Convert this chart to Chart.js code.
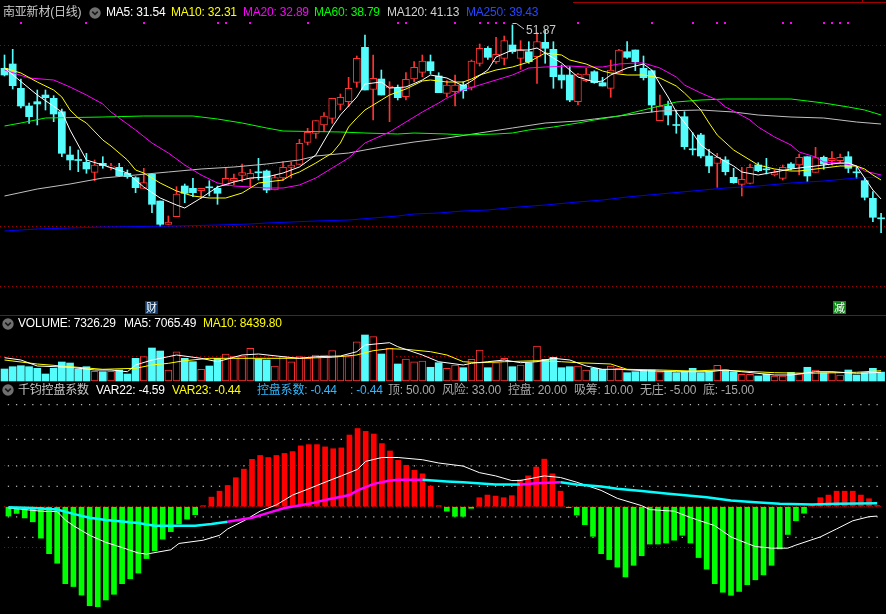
<!DOCTYPE html>
<html lang="zh">
<head>
<meta charset="UTF-8">
<title>南亚新材(日线)</title>
<script src="https://cdn.jsdelivr.net/npm/chart.js"></script>
<style>
  body { margin: 0; background: #000; }
  #wrap { position: relative; width: 886px; height: 614px; overflow: hidden; background: #000; }
  canvas { position: absolute; left: 0; }
  .hd { position: absolute; font: 12px "Liberation Sans", "Noto Sans CJK SC", sans-serif; line-height: 14px; white-space: nowrap; letter-spacing: -0.2px; }
  .ico { position: absolute; width: 12px; height: 12px; }
  .rule { position: absolute; background: #a00000; }
</style>
</head>
<body>
<div id="wrap">
  <canvas id="priceChart" width="886" height="315" style="top:0"></canvas>
  <canvas id="volChart" width="886" height="68" style="top:315px"></canvas>
  <canvas id="ctrlChart" width="886" height="231" style="top:383px"></canvas>

  <div class="rule" style="left:573px;top:2px;width:313px;height:1px"></div>
  <div class="rule" style="left:862px;top:0;width:1px;height:3px"></div>
  <div class="rule" style="left:0;top:315px;width:886px;height:1px"></div>

  <!-- price header -->
  <span class="hd" style="left:3px;top:5px;color:#c8c8c8">南亚新材(日线)</span>
  <svg class="ico" style="left:89px;top:7px" viewBox="0 0 12 12"><circle cx="6" cy="6" r="5.7" fill="#707070"/><path d="M3.2 4.6 L6 7.4 L8.8 4.6" stroke="#1a1a1a" stroke-width="1.6" fill="none"/></svg>
  <span class="hd" style="left:106px;top:5px;color:#ffffff">MA5: 31.54</span>
  <span class="hd" style="left:171px;top:5px;color:#ffff00">MA10: 32.31</span>
  <span class="hd" style="left:243px;top:5px;color:#ff00ff">MA20: 32.89</span>
  <span class="hd" style="left:314px;top:5px;color:#00ff00">MA60: 38.79</span>
  <span class="hd" style="left:387px;top:5px;color:#d0d0d0">MA120: 41.13</span>
  <span class="hd" style="left:466px;top:5px;color:#2846ff">MA250: 39.43</span>

  <!-- volume header -->
  <svg class="ico" style="left:1.5px;top:318px" viewBox="0 0 12 12"><circle cx="6" cy="6" r="5.7" fill="#707070"/><path d="M3.2 4.6 L6 7.4 L8.8 4.6" stroke="#1a1a1a" stroke-width="1.6" fill="none"/></svg>
  <span class="hd" style="left:18px;top:316px;color:#ffffff">VOLUME: 7326.29</span>
  <span class="hd" style="left:124px;top:316px;color:#ffffff">MA5: 7065.49</span>
  <span class="hd" style="left:203px;top:316px;color:#ffff00">MA10: 8439.80</span>

  <!-- indicator header -->
  <svg class="ico" style="left:1.5px;top:384px" viewBox="0 0 12 12"><circle cx="6" cy="6" r="5.7" fill="#707070"/><path d="M3.2 4.6 L6 7.4 L8.8 4.6" stroke="#1a1a1a" stroke-width="1.6" fill="none"/></svg>
  <span class="hd" style="left:18px;top:383px;color:#c8c8c8">千钧控盘系数</span>
  <span class="hd" style="left:96px;top:383px;color:#ffffff">VAR22: -4.59</span>
  <span class="hd" style="left:172px;top:383px;color:#ffff00">VAR23: -0.44</span>
  <span class="hd" style="left:257px;top:383px;color:#2fb8ff">控盘系数: -0.44</span>
  <span class="hd" style="left:350px;top:383px;color:#2fb8ff">: -0.44</span>
  <span class="hd" style="left:388px;top:383px;color:#a8a8a8">顶: 50.00</span>
  <span class="hd" style="left:442px;top:383px;color:#a8a8a8">风险: 33.00</span>
  <span class="hd" style="left:508px;top:383px;color:#a8a8a8">控盘: 20.00</span>
  <span class="hd" style="left:574px;top:383px;color:#a8a8a8">吸筹: 10.00</span>
  <span class="hd" style="left:640px;top:383px;color:#a8a8a8">无庄: -5.00</span>
  <span class="hd" style="left:703px;top:383px;color:#a8a8a8">底: -15.00</span>
</div>

<script>
// ---- daily candles (108 sessions) ----
const opens = [47.54, 47.97, 45.54, 43.77, 44.20, 44.87, 44.54, 43.20, 38.87, 38.42,
  38.14, 37.14, 38.04, 37.64, 37.64, 37.04, 36.60, 35.54, 36.94, 34.27,
  31.94, 32.70, 35.77, 35.54, 35.30, 35.69, 35.54, 35.80, 36.27, 36.84,
  36.47, 37.19, 37.27, 35.37, 36.57, 37.64, 37.94, 40.14, 41.04, 41.87,
  42.54, 43.94, 44.20, 46.14, 49.64, 45.44, 46.47, 45.57, 45.54, 44.70,
  46.47, 47.14, 48.20, 46.77, 45.04, 45.20, 45.87, 45.64, 48.04, 49.54,
  48.20, 48.54, 49.87, 48.54, 49.20, 48.70, 50.14, 49.44, 46.87, 46.87,
  44.20, 46.30, 47.20, 46.10, 45.54, 47.14, 49.20, 49.37, 47.54, 47.30,
  42.30, 43.77, 41.92, 42.70, 39.49, 40.87, 38.77, 38.04, 38.37, 36.64,
  35.94, 36.04, 37.87, 37.49, 36.87, 36.54, 37.97, 37.87, 38.70, 37.14,
  38.64, 38.30, 38.30, 38.70, 37.19, 36.30, 34.54, 32.59];
const highs = [48.87, 49.44, 46.47, 44.07, 45.37, 45.37, 44.80, 43.47, 39.70, 39.37,
  39.04, 38.37, 38.70, 38.04, 38.04, 37.37, 36.70, 37.54, 36.94, 34.27,
  32.77, 35.70, 35.97, 36.54, 35.54, 36.30, 35.77, 37.54, 36.97, 37.97,
  37.44, 38.54, 37.37, 36.87, 38.20, 38.14, 40.44, 41.54, 42.30, 43.10,
  44.54, 44.97, 46.64, 48.77, 50.87, 48.87, 47.37, 46.20, 45.87, 47.10,
  48.20, 48.87, 48.87, 47.10, 46.30, 46.87, 46.20, 48.37, 49.97, 49.70,
  50.64, 50.77, 51.87, 50.30, 50.20, 51.10, 51.37, 50.20, 47.87, 47.70,
  47.04, 47.54, 47.30, 46.64, 48.37, 49.44, 50.20, 49.37, 48.77, 47.37,
  44.87, 44.27, 43.37, 43.20, 41.10, 41.04, 39.44, 39.04, 38.70, 37.54,
  37.64, 37.97, 38.10, 38.54, 37.37, 37.87, 38.10, 38.97, 38.70, 39.64,
  38.77, 39.20, 38.97, 39.20, 37.64, 36.54, 35.20, 33.04];
const lows = [46.77, 45.47, 43.57, 42.04, 41.87, 43.37, 42.20, 38.70, 37.37, 37.20,
  37.04, 36.30, 37.54, 37.37, 36.70, 36.54, 35.10, 35.54, 33.10, 31.70,
  31.94, 32.70, 34.10, 34.70, 34.54, 34.77, 33.94, 35.80, 35.87, 36.20,
  35.70, 36.37, 35.10, 35.37, 36.30, 36.57, 37.94, 39.87, 40.54, 41.20,
  42.04, 43.37, 43.70, 45.64, 45.37, 42.37, 44.87, 42.20, 44.37, 44.37,
  46.20, 46.70, 46.97, 45.10, 44.70, 43.77, 44.54, 45.37, 47.77, 48.44,
  48.04, 47.87, 49.04, 47.44, 48.04, 46.04, 48.04, 45.54, 45.54, 44.20,
  43.87, 46.20, 46.04, 45.77, 44.64, 47.14, 48.54, 47.30, 46.37, 43.17,
  42.30, 41.87, 41.04, 39.44, 38.87, 38.57, 37.10, 35.64, 36.87, 36.04,
  34.77, 35.97, 37.20, 36.97, 36.77, 36.37, 37.37, 36.87, 36.20, 37.14,
  37.44, 37.87, 38.04, 37.10, 36.54, 34.37, 32.20, 31.10];
const closes = [46.87, 45.80, 43.77, 42.70, 43.97, 44.60, 42.97, 39.04, 38.37, 38.32,
  37.47, 37.87, 37.80, 37.77, 36.80, 36.70, 35.60, 36.10, 33.94, 31.94,
  32.17, 34.97, 35.04, 35.10, 35.54, 35.59, 35.04, 36.54, 36.54, 37.10,
  37.04, 37.09, 35.37, 36.60, 37.64, 37.87, 40.04, 41.14, 42.30, 42.77,
  44.54, 44.64, 45.54, 48.54, 45.37, 46.54, 44.87, 45.77, 44.60, 46.44,
  47.64, 48.27, 47.30, 45.10, 45.87, 45.87, 45.30, 48.27, 49.54, 48.64,
  48.94, 50.30, 49.20, 49.37, 48.20, 50.20, 49.54, 46.70, 46.37, 44.37,
  46.97, 46.97, 46.10, 45.77, 47.37, 49.37, 48.64, 48.20, 46.60, 43.87,
  43.77, 42.87, 41.82, 39.70, 39.39, 38.77, 37.77, 38.64, 37.20, 36.10,
  36.44, 37.64, 37.30, 37.39, 37.10, 37.64, 37.54, 38.64, 36.77, 38.60,
  37.97, 38.54, 38.64, 37.54, 37.09, 34.64, 32.64, 32.49];

// moving averages: [session index, price]
const ma5 = [[0,47.57],[4,44.87],[7,43.17],[8,41.37],[10,38.37],[12,37.87],[15,37.07],[17,35.67],[19,34.57],[21,33.87],[22,33.57],[24,34.57],[26,35.67],[28,36.17],[30,36.57],[32,36.67],[34,37.07],[36,37.67],[38,38.87],[40,41.67],[41,42.87],[43,44.67],[44,45.97],[46,46.17],[47,45.57],[49,45.67],[51,46.37],[52,46.87],[54,46.57],[56,45.77],[57,46.27],[59,47.37],[60,48.67],[62,49.37],[64,49.37],[65,49.57],[66,49.07],[68,48.07],[69,47.37],[70,46.67],[72,46.17],[73,46.27],[74,46.87],[76,47.57],[78,47.97],[79,47.37],[80,45.97],[81,44.67],[82,43.17],[84,41.07],[85,39.87],[87,38.67],[89,37.77],[90,37.17],[92,36.87],[94,37.17],[96,37.47],[98,37.67],[100,37.87],[102,38.07],[103,38.07],[104,37.77],[105,36.57],[106,35.37],[107,34.47]];
const ma10 = [[0,47.57],[2,47.07],[4,46.17],[6,45.37],[7,44.67],[8,43.37],[9,42.57],[10,42.07],[12,40.37],[13,39.77],[15,38.37],[16,37.37],[17,37.07],[19,36.07],[21,35.27],[23,34.77],[25,34.57],[27,34.57],[29,35.07],[31,36.07],[34,36.37],[35,36.87],[36,37.17],[38,38.07],[40,39.07],[41,40.07],[42,41.67],[43,42.57],[44,43.37],[46,44.37],[47,44.87],[49,45.47],[51,46.27],[52,46.37],[54,46.17],[56,46.17],[57,46.47],[58,46.87],[60,47.37],[62,47.67],[64,48.17],[66,49.07],[68,48.87],[69,48.37],[71,47.97],[73,47.27],[74,47.07],[76,46.87],[78,46.87],[80,46.57],[82,45.77],[83,45.07],[84,44.27],[85,43.37],[86,42.07],[87,40.87],[89,39.37],[91,38.37],[92,37.87],[94,37.47],[96,37.27],[97,37.27],[100,37.57],[102,37.77],[104,37.77],[105,37.47],[106,36.87],[107,36.37]];
const ma20 = [[0,47.37],[3,46.57],[6,46.37],[8,45.67],[10,44.87],[12,43.97],[13,43.17],[16,41.37],[18,40.07],[20,39.07],[22,37.87],[24,36.87],[26,36.07],[28,35.77],[30,35.67],[32,35.57],[34,35.57],[36,35.87],[38,36.57],[40,37.57],[42,38.57],[44,40.07],[47,41.17],[49,42.17],[51,43.17],[53,44.07],[54,44.57],[56,45.37],[58,45.87],[60,46.37],[62,46.87],[64,47.57],[66,47.67],[69,47.77],[71,47.67],[73,47.67],[75,47.97],[77,48.07],[78,48.07],[80,47.57],[82,46.67],[83,45.87],[85,45.07],[87,44.37],[88,43.67],[89,43.27],[91,42.37],[92,41.67],[94,40.67],[96,39.87],[97,39.17],[99,38.67],[100,38.17],[102,38.07],[104,37.77],[105,37.27],[107,36.87]];
const ma60 = [[0,41.77],[2,42.07],[5,42.57],[12,42.67],[17,42.77],[23,42.77],[26,42.47],[29,42.07],[32,41.57],[34,41.27],[41,41.17],[44,41.07],[48,40.97],[50,41.07],[54,40.97],[56,40.87],[60,40.97],[62,41.07],[64,41.37],[67,41.67],[70,42.07],[72,42.37],[75,42.77],[78,43.37],[82,44.17],[85,44.37],[88,44.47],[92,44.47],[96,44.47],[98,44.27],[100,44.07],[103,43.67],[105,43.37],[107,42.87]];
const ma120 = [[0,34.77],[4,35.47],[8,35.97],[12,36.57],[16,36.87],[20,37.17],[24,37.47],[28,37.67],[32,37.97],[36,38.37],[38,38.77],[42,39.07],[46,39.67],[50,40.17],[54,40.57],[58,41.07],[62,41.57],[66,42.07],[70,42.27],[72,42.47],[76,42.87],[80,43.27],[85,43.37],[89,43.17],[92,42.87],[96,42.67],[100,42.57],[104,42.17],[107,41.97]];
const ma250 = [[0,31.27],[4,31.47],[8,31.57],[12,31.67],[21,31.77],[26,31.87],[30,31.97],[32,32.07],[35,32.17],[38,32.27],[42,32.37],[45,32.57],[48,32.77],[50,32.97],[53,33.07],[56,33.27],[59,33.37],[62,33.62],[66,33.87],[70,34.17],[73,34.37],[76,34.67],[80,34.97],[84,35.27],[88,35.57],[92,35.77],[96,36.07],[100,36.27],[104,36.57],[107,36.67]];

// ---- volume ----
const volumes = [9880, 11770, 12590, 11770, 10450, 5760, 10450, 15640, 14810, 9880,
  11770, 7980, 7650, 7980, 9050, 5760, 18680, 20000, 27160, 24690,
  9050, 24110, 18680, 15880, 9630, 12350, 18680, 22220, 20580, 20580,
  26910, 18110, 17280, 12350, 20000, 15880, 20000, 18680, 21400, 21400,
  24940, 20580, 20000, 32340, 37860, 36460, 22220, 26910, 13990, 18110,
  15880, 16460, 11280, 15060, 10450, 13170, 10950, 17860, 25510, 10950,
  15060, 18680, 11770, 13170, 15060, 28810, 17860, 19510, 10950, 11770,
  12350, 9050, 10450, 9630, 12350, 10450, 6830, 7650, 9050, 9050,
  7650, 8230, 6830, 7650, 10450, 6830, 7650, 12920, 9050, 7650,
  5510, 5510, 4120, 5760, 4120, 4120, 7160, 5760, 11280, 9050,
  6830, 7650, 4940, 9050, 4940, 6830, 10450, 7326.29];
const volMa5 = [[0,19180],[2,17280],[4,12350],[8,11280],[11,9050],[13,9050],[15,7650],[16,13170],[18,17280],[20,20000],[21,21400],[24,18680],[26,15880],[29,21400],[31,22220],[34,20000],[36,18680],[38,20000],[41,20580],[43,24110],[44,29630],[47,31520],[48,28230],[51,21400],[53,15880],[56,13170],[57,14570],[59,15880],[61,17280],[63,15060],[65,15880],[67,18680],[69,17280],[71,12350],[73,9630],[75,9630],[78,8480],[82,7650],[86,7650],[88,9050],[90,7650],[94,4940],[96,4940],[99,7650],[101,7650],[104,6340],[107,7065.49]];
const volMa10 = [[0,17280],[4,13990],[8,11770],[12,9630],[16,10450],[18,13170],[20,14570],[22,16710],[25,18680],[28,18680],[32,18680],[36,18680],[40,19510],[43,21400],[45,24940],[47,26580],[49,26090],[52,24110],[54,21400],[56,15880],[58,15060],[61,15880],[65,16710],[68,15880],[70,15060],[74,13990],[76,9630],[80,9050],[84,8230],[87,9050],[90,8230],[94,6830],[98,6340],[102,6830],[104,7200],[107,8439.8]];

// ---- 千钧控盘系数 ----
const ctrlBars = [-4.6, -3.3, -5.5, -7.4, -15.4, -23.0, -27.7, -37.7, -39.1, -43.3,
  -48.5, -49.0, -45.7, -42.9, -37.7, -35.3, -32.5, -25.4, -21.6, -15.9,
  -12.2, -8.5, -6.1, -3.9, 0.5, 4.7, 7.6, 10.4, 14.2, 18.4,
  23.2, 25.1, 24.1, 25.1, 26.1, 27.0, 29.8, 30.4, 30.4, 29.3,
  28.4, 28.8, 35.1, 38.3, 36.9, 35.6, 30.9, 27.3, 22.7, 20.3,
  17.8, 16.1, 10.1, 0.5, -2.2, -4.7, -4.7, -0.8, 4.4, 5.7,
  5.2, 4.4, 5.4, 13.2, 15.1, 19.4, 23.3, 16.1, 7.6, -0.5,
  -4.1, -8.8, -14.5, -23.0, -25.9, -29.6, -34.4, -28.7, -24.0, -18.3,
  -18.3, -17.8, -16.4, -14.0, -17.8, -24.9, -30.6, -37.7, -41.9, -43.4,
  -41.5, -38.2, -35.8, -33.4, -28.7, -20.7, -13.6, -6.9, -3.2, 0.5,
  4.4, 5.7, 7.6, 7.6, 7.6, 5.7, 3.9, 0.6];
const ctrlLine = [[0,-0.3],[3,-0.6],[6,-1.4],[8,-3.5],[10,-5.4],[12,-6.5],[14,-7.3],[16,-8.0],[18,-9.3],[20,-9.3],[23,-9.3],[25,-8.5],[27,-7.4],[30,-5.4],[32,-3.0],[34,-0.6],[37,1.4],[39,3.3],[42,5.7],[43,8.0],[45,11.2],[47,12.8],[48,13.2],[51,13.2],[54,12.4],[56,12.0],[60,10.9],[63,10.9],[65,11.5],[68,12.0],[70,10.9],[73,9.9],[75,8.8],[78,7.7],[81,6.5],[84,5.4],[86,4.6],[89,3.0],[92,2.2],[95,1.4],[99,1.1],[102,1.4],[107,1.7]];
const ctrlRiseSpans = [[27, 51], [63, 68]];
const var22 = [[0,-0.6],[4,-2.2],[6,-2.4],[7,-6.5],[8,-9.3],[10,-14.0],[12,-17.5],[14,-20.0],[16,-22.7],[17,-23.2],[20,-21.1],[21,-18.0],[24,-16.4],[26,-14.0],[27,-10.9],[29,-6.9],[31,-2.2],[33,0.9],[35,5.7],[37,8.8],[39,12.0],[41,15.1],[43,18.3],[44,22.2],[46,24.1],[48,24.1],[51,23.0],[53,21.4],[56,19.9],[58,16.7],[60,15.1],[62,12.8],[63,12.8],[65,14.3],[66,15.1],[68,14.3],[70,12.0],[73,8.0],[75,4.1],[78,0.5],[79,-1.4],[82,-2.2],[84,-5.3],[87,-9.3],[89,-14.8],[91,-18.0],[92,-19.5],[94,-20.3],[96,-20.3],[97,-18.8],[100,-14.8],[102,-10.9],[104,-6.9],[106,-4.9],[107,-4.59]];
const levels = [50, 33, 20, 10, -5, -15];

// grid rows, signal marks, events
const priceGrid = [49.77, 43.77, 37.77, 31.77, 25.77];
const volGrid = [20000];
const ctrlGrid = [40, 20, 0, -20];
const signalDots = [2, 10, 17, 26, 27, 30, 37, 48, 49, 55, 58, 59, 60, 61, 70, 79, 84, 87, 88, 95, 96, 100, 101, 102, 103];
const events = [{ i: 18, text: '财', bg: '#0d3b6e' }, { i: 102, text: '减', bg: '#0a8a14' }];

const RED = '#ff3232', CYAN = '#54fcfc';
const isUp = i => closes[i] >= opens[i];
const idx = opens.map((_, i) => i);
const pts = arr => arr.map(([x, y]) => ({ x, y }));

function baseOptions(yMin, yMax, grid) {
  return {
    responsive: false,
    animation: false,
    events: [],
    layout: { padding: 0 },
    plugins: { legend: { display: false }, tooltip: { enabled: false } },
    scales: {
      x: {
        type: 'linear', min: -0.55, max: 107.6, bounds: 'data', offset: false, display: false,
        ticks: { includeBounds: false, stepSize: 1 }
      },
      y: {
        min: yMin, max: yMax, bounds: 'data',
        afterBuildTicks: s => { s.ticks = grid.map(v => ({ value: v })); },
        ticks: { display: false },
        grid: { color: '#a00000', drawTicks: false, lineWidth: 1 },
        border: { display: false, dash: [1, 3] }
      }
    }
  };
}

const barSet = (data, extra) => Object.assign({
  type: 'bar', data, grouped: false, categoryPercentage: 1, barPercentage: 1,
  borderSkipped: false, minBarLength: 1
}, extra);
const lineSet = (data, color, extra) => Object.assign({
  type: 'line', data: pts(data), borderColor: color, borderWidth: 1, pointRadius: 0, tension: 0
}, extra);

// ---- price chart ----
const priceMarks = {
  id: 'priceMarks',
  afterDatasetsDraw(chart) {
    const { ctx, scales: { x, y } } = chart;
    ctx.save();
    ctx.fillStyle = '#ff00ff';
    signalDots.forEach(i => ctx.fillRect(Math.round(x.getPixelForValue(i)) - 1, 22, 2, 2));

    let hi = 0;
    highs.forEach((h, i) => { if (h > highs[hi]) hi = i; });
    const px = Math.round(x.getPixelForValue(hi)), py = y.getPixelForValue(highs[hi]);
    ctx.strokeStyle = '#c8c8c8';
    ctx.lineWidth = 1;
    ctx.beginPath();
    ctx.moveTo(px + 0.5, py - 1.5);
    ctx.lineTo(px + 4.5, py - 1.5);
    ctx.lineTo(px + 12, py + 4);
    ctx.stroke();
    ctx.fillStyle = '#c8c8c8';
    ctx.font = '12px "Liberation Sans", sans-serif';
    ctx.fillText(highs[hi].toFixed(2), px + 14, py + 8.5);

    ctx.font = '11px "Noto Sans CJK SC", sans-serif';
    ctx.textAlign = 'center';
    ctx.textBaseline = 'middle';
    events.forEach(ev => {
      const ex = Math.round(x.getPixelForValue(ev.i));
      ctx.fillStyle = ev.bg;
      ctx.fillRect(ex - 7, 301, 13, 13);
      ctx.fillStyle = '#ffffff';
      ctx.fillText(ev.text, ex - 0.5, 307.5);
    });
    ctx.restore();
  }
};

new Chart(document.getElementById('priceChart'), {
  type: 'bar',
  data: {
    datasets: [
      barSet(idx.map(i => ({ x: i, y: [lows[i], highs[i]] })), {
        backgroundColor: c => isUp(c.dataIndex) ? RED : CYAN, maxBarThickness: 1, minBarLength: 0, order: 9
      }),
      barSet(idx.filter(i => !isUp(i)).map(i => ({ x: i, y: [opens[i], closes[i]] })), {
        backgroundColor: CYAN, maxBarThickness: 7, order: 8
      }),
      barSet(idx.filter(isUp).map(i => ({ x: i, y: [opens[i], closes[i]] })), {
        backgroundColor: '#000000', borderColor: RED, borderWidth: 1, maxBarThickness: 7, order: 7
      }),
      lineSet(ma250, '#0000ff', { order: 6 }),
      lineSet(ma120, '#c0c0c0', { order: 5 }),
      lineSet(ma60, '#00ff00', { order: 4 }),
      lineSet(ma20, '#ff00ff', { order: 3 }),
      lineSet(ma10, '#ffff00', { order: 2 }),
      lineSet(ma5, '#ffffff', { order: 1 })
    ]
  },
  options: baseOptions(22.87, 54.37, priceGrid),
  plugins: [priceMarks]
});

// ---- volume chart ----
new Chart(document.getElementById('volChart'), {
  type: 'bar',
  data: {
    datasets: [
      barSet(idx.filter(i => !isUp(i)).map(i => ({ x: i, y: volumes[i] })), {
        backgroundColor: CYAN, maxBarThickness: 7, order: 4
      }),
      barSet(idx.filter(isUp).map(i => ({ x: i, y: volumes[i] })), {
        backgroundColor: '#000000', borderColor: RED, borderWidth: 1, maxBarThickness: 7, order: 3
      }),
      lineSet(volMa10, '#ffff00', { order: 2 }),
      lineSet(volMa5, '#ffffff', { order: 1 })
    ]
  },
  options: baseOptions(-1646, 54320, volGrid)
});

// ---- control coefficient chart ----
const inRise = (a, b) => ctrlRiseSpans.some(([s, e]) => a >= s && b <= e);
new Chart(document.getElementById('ctrlChart'), {
  type: 'bar',
  data: {
    datasets: [
      ...levels.map(v => ({
        type: 'line', data: idx.map(i => ({ x: i, y: v })), showLine: false,
        pointRadius: 0.9, pointStyle: 'rect', pointBorderWidth: 0, pointBackgroundColor: '#b4b4b4', order: 9
      })),
      barSet(idx.map(i => ({ x: i, y: ctrlBars[i] })), {
        backgroundColor: c => c.raw && c.raw.y >= 0 ? '#ff0000' : '#00ff00', maxBarThickness: 5, minBarLength: 0, order: 5
      }),
      lineSet(var22, '#ffffff', { order: 2 }),
      lineSet(ctrlLine, '#00ffff', {
        borderWidth: 2.5, order: 1,
        segment: { borderColor: c => inRise(c.p0.parsed.x, c.p1.parsed.x) ? '#ff00ff' : '#00ffff' }
      })
    ]
  },
  options: baseOptions(-50.59, 58.63, ctrlGrid)
});
</script>
</body>
</html>
